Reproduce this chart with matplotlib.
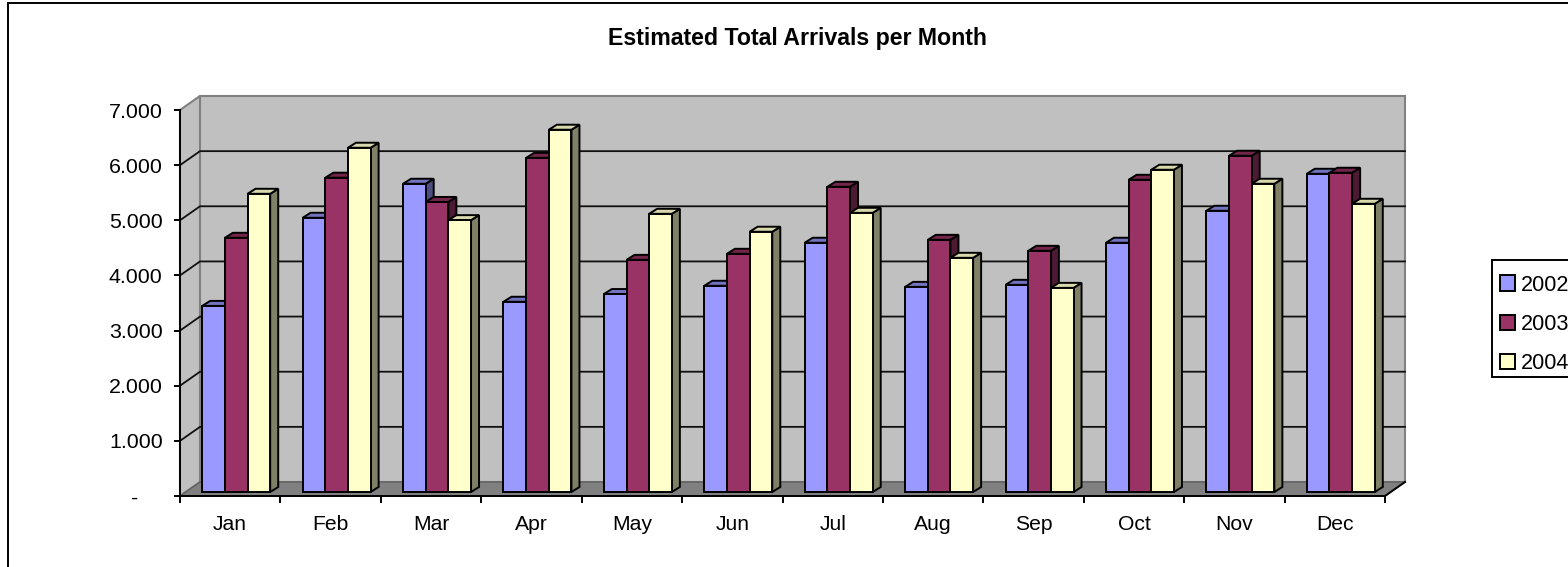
# Estimated total arrivals per month, Excel style 3D clustered columns
import matplotlib
matplotlib.use('Agg')
import matplotlib.pyplot as plt
from matplotlib.patches import Polygon, Rectangle

plt.rcParams['font.family'] = ['Liberation Sans', 'DejaVu Sans']

months = ['Jan', 'Feb', 'Mar', 'Apr', 'May', 'Jun', 'Jul', 'Aug', 'Sep', 'Oct', 'Nov', 'Dec']
arr_2002 = [3375, 4973, 5590, 3450, 3590, 3740, 4520, 3720, 3757, 4520, 5100, 5771]
arr_2003 = [4610, 5700, 5260, 6060, 4210, 4320, 5535, 4573, 4374, 5662, 6098, 5790]
arr_2004 = [5408, 6243, 4930, 6570, 5045, 4720, 5063, 4247, 3702, 5844, 5590, 5227]
years = ['2002', '2003', '2004']
y_ticks = [0, 1000, 2000, 3000, 4000, 5000, 6000, 7000]
y_labels = ['-    ', '1.000', '2.000', '3.000', '4.000', '5.000', '6.000', '7.000']

face_cols = ['#9999FF', '#993366', '#FFFFCC']
top_cols = ['#7373BF', '#732649', '#D9D9AD']
side_cols = ['#4D4D80', '#4D1A33', '#808066']

W, H = 1568, 567
LW = 1.4
fig = plt.figure(figsize=(W / 100, H / 100), dpi=100)
fig.patch.set_facecolor('white')

# outer chart border, runs off the right and bottom of the picture
fig.add_artist(Rectangle((8 / W, -0.1), 1.1, 1.1 - 2.5 / H, transform=fig.transFigure,
                         fc='none', ec='black', lw=LW))

# axes = front plane of the 3D box
ax = fig.add_axes([180 / W, 1 - 496 / H, 1205 / W, 386 / H])
ax.set_xlim(0, 12)
ax.set_ylim(0, 7000)
ax.patch.set_visible(False)
for s in ax.spines.values():
    s.set_visible(False)

px_x = 12 / 1205.0    # month units per pixel
px_y = 7000 / 386.0   # value units per pixel
dep_x = 20 * px_x     # box depth
dep_y = 14 * px_y


def poly(pts, fc, ec='black', lw=LW, z=2):
    ax.add_patch(Polygon(pts, closed=True, fc=fc, ec=ec, lw=lw, zorder=z,
                         clip_on=False, joinstyle='miter'))


# walls and floor
poly([(0, 0), (dep_x, dep_y), (dep_x, 7000 + dep_y), (0, 7000)], '#C0C0C0', ec='#808080', lw=1.5, z=1)
poly([(dep_x, dep_y), (12 + dep_x, dep_y), (12 + dep_x, 7000 + dep_y), (dep_x, 7000 + dep_y)],
     '#C0C0C0', ec='#808080', lw=1.5, z=1)
poly([(0, 0), (12, 0), (12 + dep_x, dep_y), (dep_x, dep_y)], '#808080', ec='#606060', lw=1, z=1.2)

# gridlines run along the side wall and the back wall
for t in y_ticks[1:-1]:
    ax.plot([0, dep_x, 12 + dep_x], [t, t + dep_y, t + dep_y], color='#101010', lw=1.3, zorder=1.5,
            clip_on=False)
ax.plot([12, 12 + dep_x], [0, dep_y], color='black', lw=LW, zorder=1.5, clip_on=False)
ax.plot([0, 0], [0, 7000], color='black', lw=LW, zorder=3, clip_on=False)
ax.plot([0, 12], [0, 0], color='black', lw=LW, zorder=3, clip_on=False)

# columns, left to right so that the next column hides the side of the last
bar_w = (68 / 3.0) * px_x
off_x = 6 * px_x
off_y = 4 * px_y
depth_x = 8 * px_x
depth_y = 5 * px_y
series = [arr_2002, arr_2003, arr_2004]
z = 4
handles = []
for m in range(len(months)):
    for k, vals in enumerate(series):
        x0 = m + 0.5 + off_x + (k - 1.5) * bar_w
        x1 = x0 + bar_w
        y1 = vals[m] + off_y
        poly([(x1, off_y), (x1 + depth_x, off_y + depth_y), (x1 + depth_x, y1 + depth_y), (x1, y1)],
             side_cols[k], z=z)
        poly([(x0, y1), (x1, y1), (x1 + depth_x, y1 + depth_y), (x0 + depth_x, y1 + depth_y)],
             top_cols[k], z=z)
        b = ax.bar(x0, vals[m], bar_w, bottom=off_y, align='edge', color=face_cols[k],
                   edgecolor='black', lw=LW, zorder=z + 0.5, clip_on=False)
        if m == 0:
            handles.append(b[0])
        z += 1

# ticks
ax.set_yticks(y_ticks)
ax.set_yticklabels(y_labels)
ax.set_xticks(range(13))
ax.set_xticklabels([])
ax.set_xticks([i + 0.5 for i in range(12)], minor=True)
ax.set_xticklabels(months, minor=True)
ax.tick_params(axis='y', length=4.5, width=LW, pad=8, labelsize=15.4, colors='black')
ax.tick_params(axis='x', which='major', length=5, width=LW)
ax.tick_params(axis='x', which='minor', length=0, pad=14, labelsize=15.2)

fig.text(797 / W, 1 - 38.5 / H, 'Estimated Total Arrivals per Month', ha='center', va='center',
         fontsize=16.7, fontweight='bold')

# legend box is cut by the right edge of the picture, as in the original
fig.add_artist(Rectangle((1492 / W, 1 - 377 / H), 0.2, 117 / H, transform=fig.transFigure,
                         fc='white', ec='black', lw=LW))
leg = fig.legend(handles, years, loc='upper left',
                 bbox_to_anchor=(1500 / W, 1 - 274.5 / H), borderaxespad=0, fontsize=15.6,
                 frameon=False, borderpad=0, handlelength=0.7, handleheight=0.7,
                 handletextpad=0.25, labelspacing=0.84)

plt.savefig('out.png', dpi=100)
